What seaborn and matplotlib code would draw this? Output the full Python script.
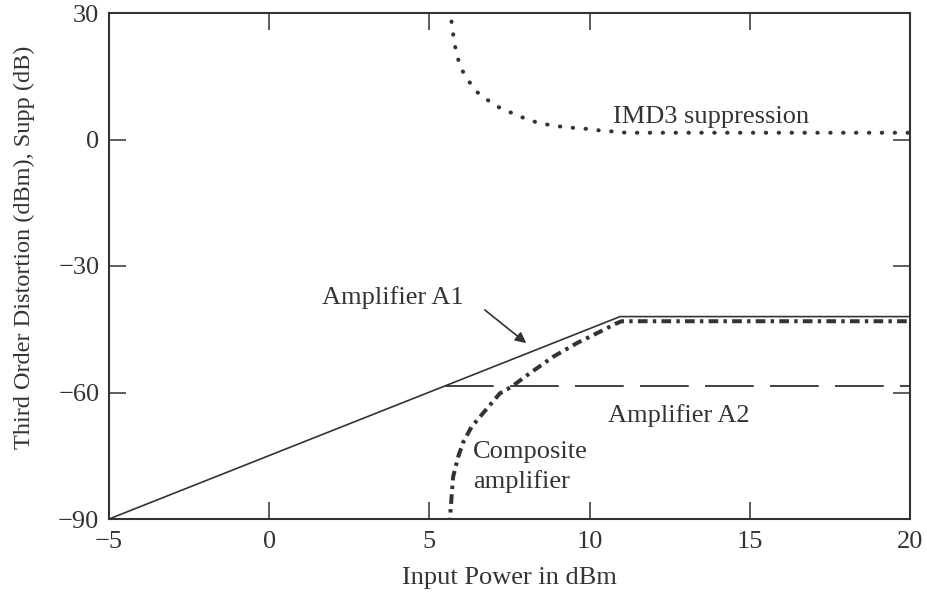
import numpy as np
import pandas as pd
import seaborn as sb
import matplotlib.pyplot as plt

sb.set_style("white")
plt.rcParams['font.family'] = ['Liberation Serif', 'DejaVu Serif']

ink = '#333333'

# values
a1_x = [-5, 10.95, 20]
a1_y = [-90, -42, -42]

a2_x = [5.5, 20]
a2_y = [-58.5, -58.5]

comp_x = [5.64, 5.66, 5.74, 5.9, 6.06, 6.32, 6.63, 7.2, 7.57, 8.14, 8.87, 9.6, 10.32, 10.84, 11.0, 20]
comp_y = [-92, -88, -80, -75.2, -71.7, -68.1, -65.3, -60.2, -58.6, -55.4, -51.5, -48.3, -45.6, -43.6, -43.1, -43.1]

supp_x = [5.63, 5.66, 5.72, 5.77, 5.85, 5.96, 6.18, 6.48, 6.81, 7.2, 7.6, 7.98, 8.37, 8.78, 9.16, 9.58, 9.96, 10.36, 10.74, 11.15, 20]
supp_y = [31, 29.5, 26.4, 23.2, 20.4, 17.3, 14.3, 11.3, 9.4, 7.5, 6.2, 5.0, 4.0, 3.4, 3.0, 2.7, 2.5, 2.1, 1.9, 1.6, 1.6]

x_ticks = [-5, 0, 5, 10, 15, 20]
x_labels = ['\u22125', '0', '5', '10', '15', '20']
y_ticks = [-90, -60, -30, 0, 30]
y_labels = ['\u221290', '\u221260', '\u221230', '0', '30']

fig = plt.figure(figsize=(9.28, 5.94), dpi=100)
ax = fig.add_axes([109/928, 1 - 519/594, 801/928, 506/594])

sb.lineplot(x=a1_x, y=a1_y, ax=ax, color=ink, lw=1.2)
sb.lineplot(x=a2_x, y=a2_y, ax=ax, color=ink, lw=1.3, linestyle=(0, (27, 9)))
sb.lineplot(x=comp_x, y=comp_y, ax=ax, color=ink, lw=2.9,
            linestyle=(0, (2.4, 1.3, 0.85, 1.3)))
sb.lineplot(x=supp_x, y=supp_y, ax=ax, color=ink, lw=2.9,
            linestyle=(0, (0.1, 3.1)), dash_capstyle='round')

ax.set_xlim(-5, 20)
ax.set_ylim(-90, 30)
ax.set_xticks(x_ticks)
ax.set_xticklabels(x_labels)
ax.set_yticks(y_ticks)
ax.set_yticklabels(y_labels)
ax.tick_params(axis='both', direction='in', length=12, width=1.1, color=ink,
               labelcolor=ink, labelsize=19, top=True, right=True,
               bottom=True, left=True)
ax.tick_params(axis='x', pad=9)
ax.tick_params(axis='y', pad=7)
for sp in ax.spines.values():
    sp.set_color(ink)
    sp.set_linewidth(1.5)

ax.set_xlabel('Input Power in dBm', fontsize=19, color=ink)
ax.set_ylabel('Third Order Distortion (dBm), Supp (dB)', fontsize=17.5, color=ink)
ax.xaxis.set_label_coords(0.5, -0.095)
ax.yaxis.set_label_coords(-0.092, 0.536)

ax.text(13.8, 3.9, 'IMD3 suppression', fontsize=19, color=ink, ha='center', va='baseline')
ax.text(3.86, -39.0, 'Amplifier A1', fontsize=19, color=ink, ha='center', va='baseline')
ax.text(12.79, -67.0, 'Amplifier A2', fontsize=19, color=ink, ha='center', va='baseline')
ax.text(6.36, -75.5, 'Composite', fontsize=19, color=ink, ha='left', va='baseline')
ax.text(6.36, -82.6, 'amplifier', fontsize=19, color=ink, ha='left', va='baseline')
ax.annotate('', xy=(8.09, -48.7), xytext=(6.66, -40.0),
            arrowprops=dict(arrowstyle='-|>', color=ink, lw=1.2, mutation_scale=16))

plt.savefig('out.png', dpi=100)
